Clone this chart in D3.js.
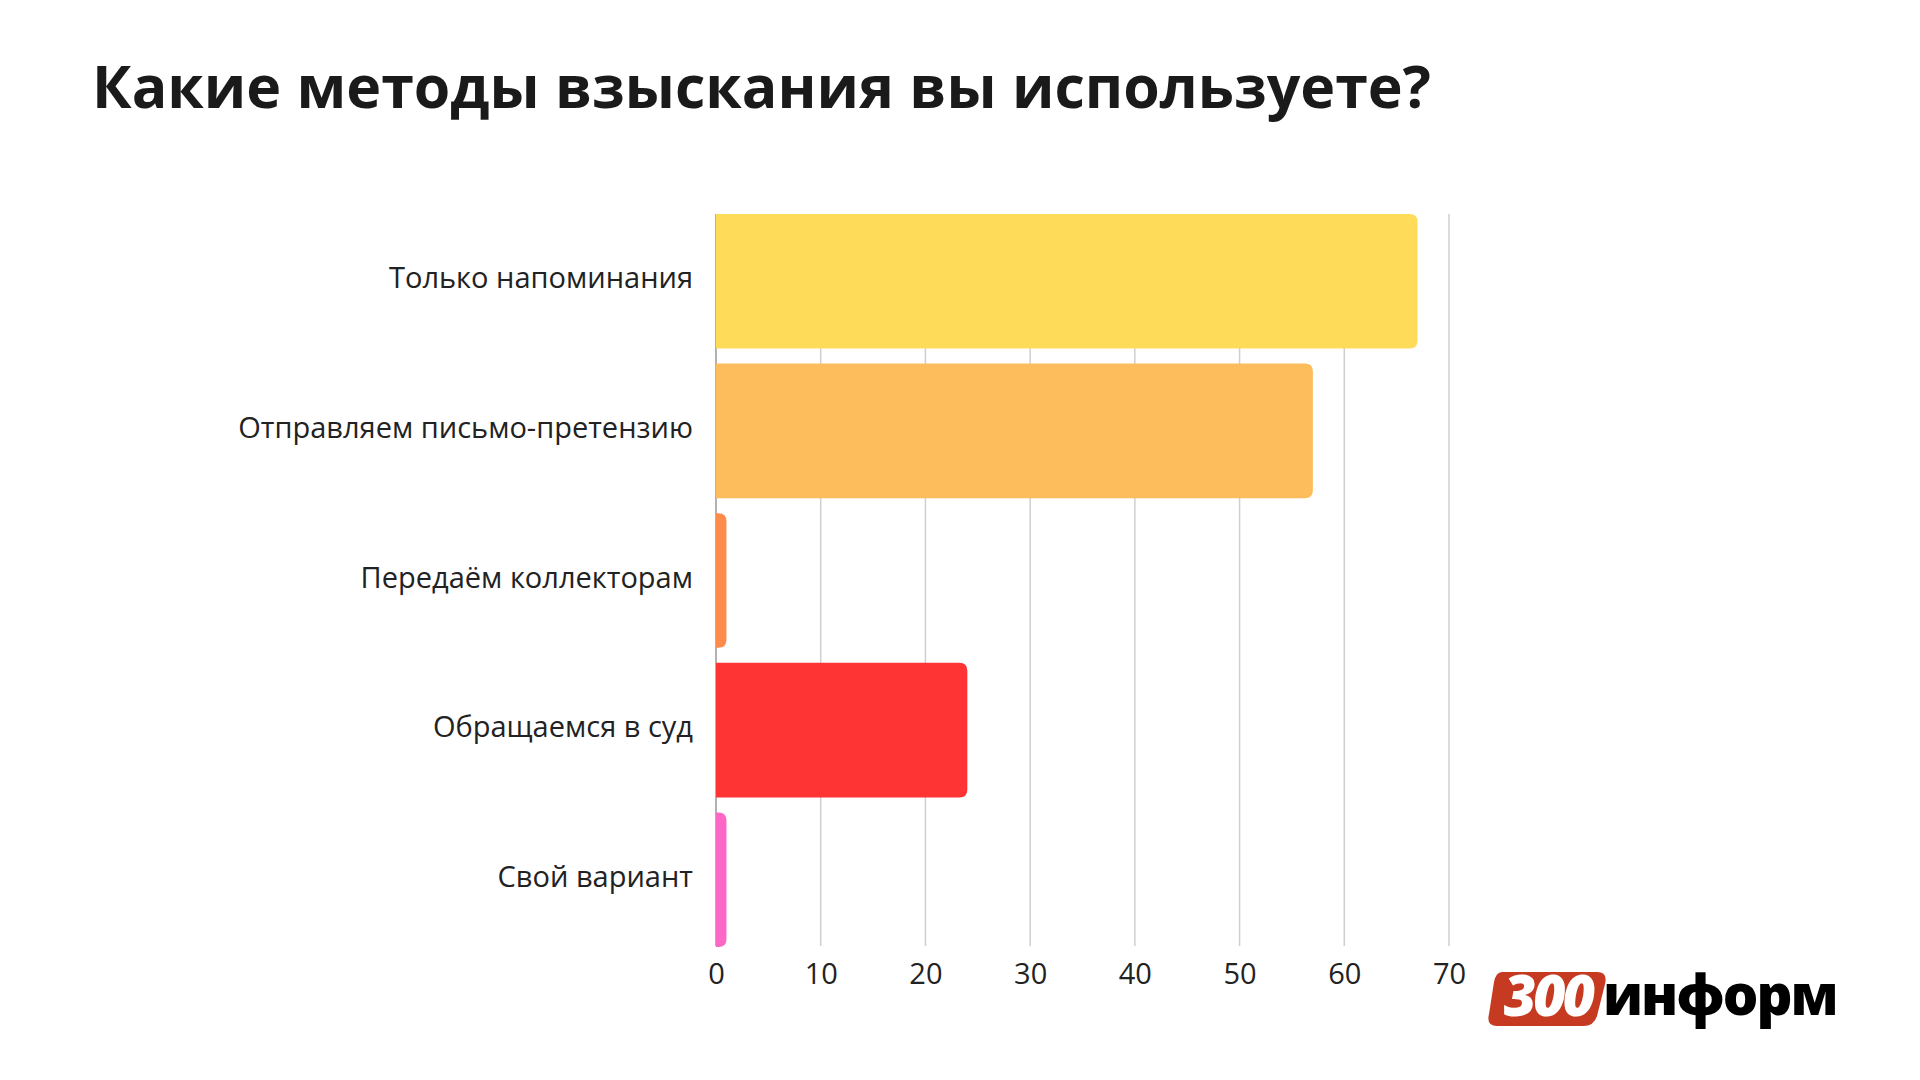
<!DOCTYPE html>
<html><head><meta charset="utf-8">
<script src="https://cdn.jsdelivr.net/npm/d3@7"></script>
<style>body{margin:0;background:#fff}svg{display:block}</style>
</head><body>
<script>
const categories = ["Только напоминания","Отправляем письмо-претензию","Передаём коллекторам","Обращаемся в суд","Свой вариант"];
const values = [67, 57, 1, 24, 1];
const colors = ["#fedc5a","#fdbd5c","#fe8b4b","#fe3333","#fd68c6"];
const ticks = [0,10,20,30,40,50,60,70];

const W=1920,H=1080;
const svg=d3.select("body").append("svg").attr("width",W).attr("height",H);
const font="'Open Sans', sans-serif";
svg.append("text").attr("x",92).attr("y",108).attr("font-family",font).attr("font-weight",700)
  .attr("font-size",59).attr("fill","#1a1a1a").text("Какие методы взыскания вы используете?");

const x=d3.scaleLinear().domain([0,70]).range([716,1449]);
const y=d3.scaleBand().domain(categories).range([206.5,954.5]).paddingInner(0.1).paddingOuter(0.05);

const g=svg.append("g");
g.selectAll("line.grid").data(ticks).enter().append("line")
  .attr("x1",d=>x(d)).attr("x2",d=>x(d)).attr("y1",214).attr("y2",946)
  .attr("stroke",d=>d===0?"#999":"#cfcfcf").attr("stroke-width",1.5);

g.selectAll("path.bar").data(values).enter().append("path")
  .attr("fill",(d,i)=>colors[i])
  .attr("d",(d,i)=>{
    const x0=x(0), x1=x(d), y0=y(categories[i]), h=y.bandwidth();
    const r=Math.min(8,(x1-x0));
    return `M${x0},${y0}H${x1-r}Q${x1},${y0} ${x1},${y0+r}V${y0+h-r}Q${x1},${y0+h} ${x1-r},${y0+h}H${x0}Z`;
  });

const axisG=svg.append("g").attr("transform","translate(0,963)")
  .call(d3.axisBottom(x).tickValues(ticks).tickSize(0).tickPadding(0));
axisG.select(".domain").remove();
axisG.selectAll("text").attr("font-family",font).attr("font-size",29).attr("fill","#222").attr("dy","0.71em");

svg.selectAll("text.lab").data(categories).enter().append("text")
  .attr("x",693).attr("y",d=>y(d)+y.bandwidth()/2-3).attr("dy","0.35em")
  .attr("text-anchor","end").attr("font-family",font).attr("font-size",29).attr("fill","#222").text(d=>d);

// logo
const lg=svg.append("g");
lg.append("path").attr("d","M1502,972H1597Q1608,972 1605,984L1597,1016Q1594,1026 1583,1026H1497Q1486,1026 1489,1014L1494,982Q1496,972 1502,972Z").attr("fill","#c53a20");
lg.append("text").attr("x",1548).attr("y",1016).attr("text-anchor","middle").attr("font-family",font)
  .attr("font-weight",800).attr("font-style","italic").attr("font-size",56).attr("fill","#fff").attr("letter-spacing",-3).text("300");
lg.append("text").attr("x",1603).attr("y",1015).attr("font-family",font)
  .attr("font-weight",800).attr("font-size",56).attr("fill","#000").attr("letter-spacing",-2).text("информ");
</script>
</body></html>
